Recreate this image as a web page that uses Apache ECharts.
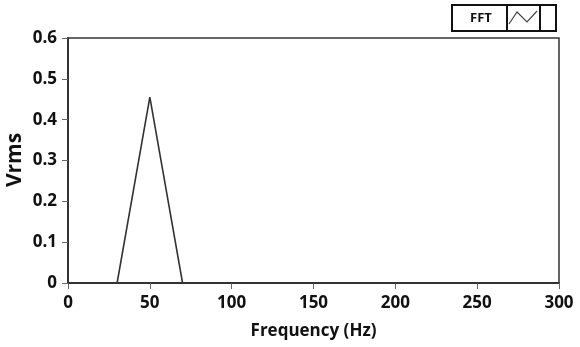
<!DOCTYPE html>
<html><head><meta charset="utf-8">
<script src="https://cdn.jsdelivr.net/npm/echarts@6/dist/echarts.min.js"></script>
<style>html,body{margin:0;padding:0;background:#fff}#c{width:580px;height:347px}</style>
</head><body><div id="c"></div>
<script>
const seriesName = 'FFT';
const freqHz = [0, 30, 50, 70, 300];
const vrms = [0, 0, 0.455, 0, 0];
const xTitle = 'Frequency (Hz)';
const yTitle = 'Vrms';

const chart = echarts.init(document.getElementById('c'), null, {renderer: 'canvas'});
const font = '"Open Sans", "DejaVu Sans", sans-serif';
const lbl = {color: '#111', fontWeight: 'bold', fontSize: 17, fontFamily: font};
chart.setOption({
  animation: false,
  backgroundColor: '#fff',
  grid: {left: 68, right: 21, top: 38, bottom: 64, containLabel: false, outerBoundsMode: 'none',
         show: true, borderColor: '#333', borderWidth: 1.5, backgroundColor: 'transparent'},
  xAxis: {
    type: 'value', min: 0, max: 300, interval: 50,
    name: xTitle, nameLocation: 'middle', nameGap: 40,
    nameTextStyle: {color: '#111', fontWeight: 'bold', fontSize: 17, fontFamily: font},
    axisLine: {show: true, lineStyle: {color: '#333', width: 2}},
    axisTick: {show: true, length: 6, lineStyle: {color: '#666'}},
    axisLabel: Object.assign({margin: 12}, lbl),
    splitLine: {show: false}
  },
  yAxis: {
    type: 'value', min: 0, max: 0.6, interval: 0.1,
    axisLine: {show: true, lineStyle: {color: '#333', width: 2}},
    axisTick: {show: true, length: 6, lineStyle: {color: '#666'}},
    axisLabel: Object.assign({margin: 11}, lbl),
    splitLine: {show: false}
  },
  series: [{
    name: seriesName, type: 'line', symbol: 'none',
    data: freqHz.map((f, i) => [f, vrms[i]]),
    lineStyle: {color: '#333', width: 1.6}
  }],
  graphic: [
    {type: 'text', x: 15, y: 160, rotation: Math.PI / 2,
     style: {text: yTitle, align: 'center', verticalAlign: 'middle', fill: '#111', font: 'bold 21px "Open Sans", sans-serif'}},
    {type: 'rect', shape: {x: 452, y: 5, width: 104, height: 26}, style: {fill: '#fff', stroke: '#111', lineWidth: 2}},
    {type: 'rect', shape: {x: 507, y: 5, width: 33, height: 26}, style: {fill: '#fff', stroke: '#111', lineWidth: 2}},
    {type: 'polyline', shape: {points: [[509, 24], [517, 12], [527, 22], [537, 11]]}, style: {stroke: '#444', lineWidth: 1.2, fill: null}},
    {type: 'text', style: {text: seriesName, x: 481, y: 18, align: 'center', verticalAlign: 'middle', fill: '#111', font: 'bold 13px "Open Sans", sans-serif'}}
  ]
});
</script></body></html>
